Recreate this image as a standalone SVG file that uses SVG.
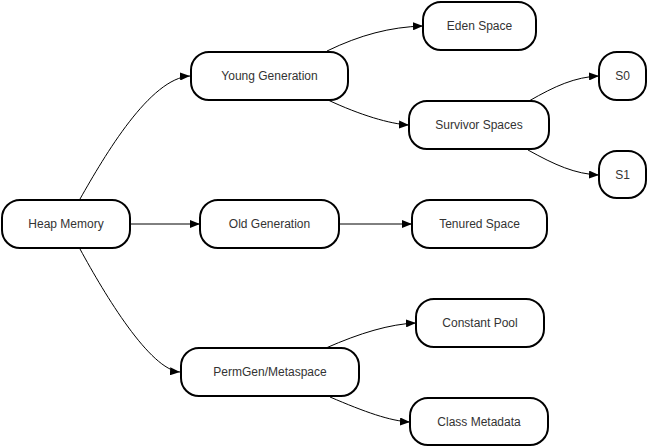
<svg xmlns="http://www.w3.org/2000/svg" width="647" height="447" viewBox="0 0 647 447">
<defs>
<marker id="arr" markerUnits="userSpaceOnUse" markerWidth="10" markerHeight="8" refX="10" refY="4" orient="auto">
<path d="M0,0 L10,4 L0,8 z" fill="#000"/>
</marker>
<style>
.n rect{fill:#fff;stroke:#000;stroke-width:2}
.n text{font-family:"Liberation Sans",Arial,sans-serif;font-size:12px;fill:#333;text-anchor:middle;dominant-baseline:central}
.e path{fill:none;stroke:#000;stroke-width:1;marker-end:url(#arr)}
</style>
</defs>
<rect width="647" height="447" fill="#fff"/>
<g id="connectors" class="e">
<path d="M80,199 C105,155 150,78 190,76"/>
<path d="M80,249 C105,295 150,370 180,372"/>
<path d="M131,224 L200,224"/>
<path d="M327,51 C360,35 390,27 423,26"/>
<path d="M328,100 C360,115 390,124 409,125"/>
<path d="M529,101 C555,86 575,77 599,76"/>
<path d="M528,150 C555,165 575,174 599,175"/>
<path d="M339,224 L412,224"/>
<path d="M326,348 C360,333 390,324 416,323"/>
<path d="M330,397 C365,412 390,421 410,422"/>
</g>
<g id="heap" class="n"><rect x="2" y="200" width="128" height="48" rx="18"/><text x="66" y="224">Heap Memory</text></g>
<g id="young" class="n"><rect x="191" y="52" width="157" height="48" rx="18"/><text x="269.5" y="76">Young Generation</text></g>
<g id="old" class="n"><rect x="200" y="200" width="139" height="48" rx="18"/><text x="269.5" y="224">Old Generation</text></g>
<g id="perm" class="n"><rect x="181" y="348" width="178" height="48" rx="18"/><text x="270" y="372">PermGen/Metaspace</text></g>
<g id="eden" class="n"><rect x="423" y="2" width="113" height="48" rx="18"/><text x="479.5" y="26">Eden Space</text></g>
<g id="survivor" class="n"><rect x="409" y="101" width="140" height="48" rx="18"/><text x="479" y="125">Survivor Spaces</text></g>
<g id="s0" class="n"><rect x="599" y="52" width="47" height="48" rx="18"/><text x="622.5" y="76">S0</text></g>
<g id="s1" class="n"><rect x="599" y="151" width="47" height="47" rx="18"/><text x="622.5" y="175">S1</text></g>
<g id="tenured" class="n"><rect x="412" y="200" width="135" height="48" rx="18"/><text x="479.5" y="224">Tenured Space</text></g>
<g id="constant" class="n"><rect x="416" y="299" width="128" height="48" rx="18"/><text x="480" y="323">Constant Pool</text></g>
<g id="classmeta" class="n"><rect x="410" y="398" width="138" height="47" rx="18"/><text x="479" y="422">Class Metadata</text></g>
</svg>
